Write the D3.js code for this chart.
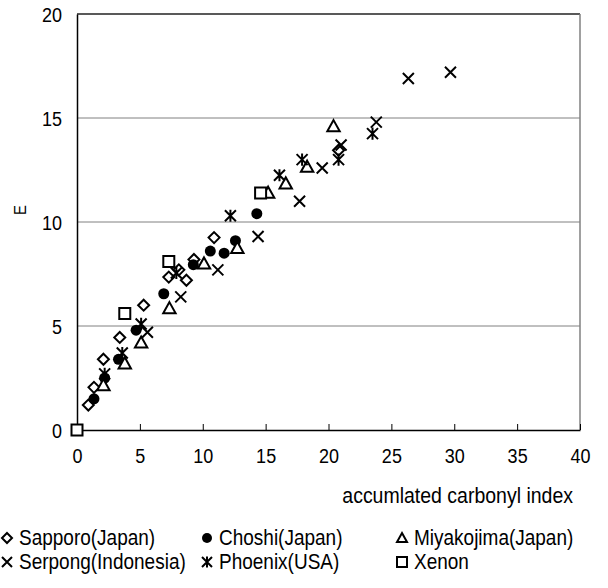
<!DOCTYPE html>
<html>
<head>
<meta charset="utf-8">
<script src="https://cdn.jsdelivr.net/npm/d3@7"></script>
<style>
  html, body { margin: 0; padding: 0; background: #fff; }
  svg { display: block; font-family: "Liberation Sans", Arial, sans-serif; }
</style>
</head>
<body>
<svg id="chart" width="608" height="588"></svg>
<script>
// Accumulated carbonyl index (x) vs E (y), one array per exposure site
const sapporo = [[0.9,1.2],[1.35,2.05],[2.1,3.4],[3.4,4.45],[5.3,6.0],[7.3,7.35],[8.1,7.7],[8.7,7.2],[9.3,8.2],[10.9,9.25],[20.8,13.45]];
const choshi = [[1.35,1.5],[2.2,2.5],[3.3,3.4],[4.7,4.8],[6.9,6.55],[9.25,7.95],[10.6,8.6],[11.7,8.5],[12.6,9.1],[14.3,10.4]];
const miyakojima = [[2.1,2.15],[3.8,3.2],[5.1,4.2],[7.35,5.85],[10.1,8.0],[12.75,8.75],[15.2,11.4],[16.6,11.85],[18.3,12.65],[20.4,14.6]];
const serpong = [[5.6,4.7],[8.25,6.4],[11.2,7.7],[14.4,9.3],[17.7,11.0],[19.5,12.6],[21.0,13.7],[23.8,14.8],[26.35,16.9],[29.7,17.2]];
const phoenix = [[2.2,2.7],[3.6,3.7],[5.1,5.1],[7.9,7.55],[12.2,10.3],[16.1,12.25],[17.9,13.0],[20.8,13.0],[23.5,14.25]];
const xenon = [[0,0],[3.8,5.6],[7.3,8.1],[14.6,11.4]];

const xTicks = [0,5,10,15,20,25,30,35,40];
const yTicks = [0,5,10,15,20];

const seriesNames = ["Sapporo(Japan)","Choshi(Japan)","Miyakojima(Japan)","Serpong(Indonesia)","Phoenix(USA)","Xenon"];
const seriesData = [sapporo, choshi, miyakojima, serpong, phoenix, xenon];
const seriesShape = ["diamond","circle","triangle","cross","asterisk","square"];

const svg = d3.select("#chart");
const plotLeft = 77, plotRight = 580, plotTop = 14, plotBottom = 430;
const stretch = 1.12; // tall, narrow lettering

const x = d3.scaleLinear().domain([0, 40]).range([plotLeft, plotRight]);
const y = d3.scaleLinear().domain([0, 20]).range([plotBottom, plotTop]);

// marker path generator, r = half size
function markerPath(shape, r) {
  const p = d3.path();
  if (shape === "diamond") {
    p.moveTo(0,-r); p.lineTo(r,0); p.lineTo(0,r); p.lineTo(-r,0); p.closePath();
  } else if (shape === "circle") {
    p.arc(0,0,r,0,2*Math.PI);
  } else if (shape === "triangle") {
    p.moveTo(0,-r); p.lineTo(r,r*0.8); p.lineTo(-r,r*0.8); p.closePath();
  } else if (shape === "square") {
    p.rect(-r,-r,2*r,2*r);
  } else if (shape === "cross") {
    p.moveTo(-r,-r); p.lineTo(r,r); p.moveTo(r,-r); p.lineTo(-r,r);
  } else if (shape === "asterisk") {
    p.moveTo(-r,-r); p.lineTo(r,r); p.moveTo(r,-r); p.lineTo(-r,r);
    p.moveTo(0,-r*1.1); p.lineTo(0,r*1.1);
  }
  return p.toString();
}
function markerStyle(sel, shape) {
  if (shape === "circle") sel.attr("fill","#000").attr("stroke","none");
  else sel.attr("fill", (shape === "cross" || shape === "asterisk") ? "none" : "#fff")
          .attr("stroke","#000").attr("stroke-width", 2);
}
const markerSize = {diamond:5.5, circle:5.5, triangle:6.2, square:5.5, cross:5.5, asterisk:5.5};

// text placed at (tx, ty) and stretched vertically about that point
function tallText(sel, tx, ty) {
  sel.attr("transform", `translate(${tx},${ty}) scale(1,${stretch})`);
}

// gridlines
svg.append("g").selectAll("line").data(yTicks.filter(d => d > 0 && d < 20)).join("line")
  .attr("x1", plotLeft).attr("x2", plotRight)
  .attr("y1", d => y(d)).attr("y2", d => y(d))
  .attr("stroke", "#808080").attr("stroke-width", 1);

// frame: top and right
svg.append("line").attr("x1", plotLeft).attr("x2", plotRight).attr("y1", y(20)).attr("y2", y(20))
  .attr("stroke", "#222").attr("stroke-width", 1.5);
svg.append("line").attr("x1", plotRight).attr("x2", plotRight).attr("y1", plotTop).attr("y2", plotBottom)
  .attr("stroke", "#808080").attr("stroke-width", 1.5);

// x axis with ticks pointing inward
const xAxis = d3.axisBottom(x).tickValues(xTicks).tickSizeInner(-6).tickSizeOuter(0).tickPadding(0);
const gx = svg.append("g").attr("transform", `translate(0,${plotBottom})`).call(xAxis);
gx.select(".domain").attr("stroke", "#000").attr("stroke-width", 1.5);
gx.selectAll(".tick line").attr("stroke", "#000");
gx.selectAll(".tick text")
  .attr("font-size", 18).attr("font-family", "Liberation Sans, Arial, sans-serif").attr("fill","#000")
  .attr("y", 0).attr("dy", "0.35em")
  .attr("transform", `translate(0,26) scale(1,${stretch})`);

// y axis
const yAxis = d3.axisLeft(y).tickValues(yTicks).tickSize(0).tickPadding(15);
const gy = svg.append("g").attr("transform", `translate(${plotLeft},0)`).call(yAxis);
gy.select(".domain").attr("stroke", "#000").attr("stroke-width", 1.5);
gy.selectAll(".tick text")
  .attr("font-size", 18).attr("font-family", "Liberation Sans, Arial, sans-serif").attr("fill","#000")
  .attr("dy", "0.35em")
  .attr("transform", `scale(1,${stretch})`);

// axis titles
svg.append("text").attr("text-anchor", "end").attr("dy", "0.35em")
  .attr("font-size", 19.5).text("accumlated carbonyl index")
  .call(tallText, 573, 495);
svg.append("text").attr("transform", `translate(20,210) rotate(-90) scale(1,${stretch})`)
  .attr("text-anchor", "middle").attr("dy", "0.35em")
  .attr("font-size", 15).text("E");

// data points
seriesData.forEach((data, i) => {
  const shape = seriesShape[i];
  svg.append("g").selectAll("path").data(data).join("path")
    .attr("transform", d => `translate(${x(d[0])},${y(d[1])})`)
    .attr("d", markerPath(shape, markerSize[shape]))
    .call(markerStyle, shape);
});

// legend
const legendCols = [7, 207, 402];
const legendRows = [538, 562];
seriesNames.forEach((name, i) => {
  const cx = legendCols[i % 3], cy = legendRows[Math.floor(i / 3)];
  const shape = seriesShape[i];
  svg.append("path").attr("transform", `translate(${cx},${cy})`)
    .attr("d", markerPath(shape, 5)).call(markerStyle, shape);
  svg.append("text").attr("dy", "0.35em").attr("font-size", 19).text(name)
    .call(tallText, cx + 12, cy);
});
</script>
</body>
</html>
